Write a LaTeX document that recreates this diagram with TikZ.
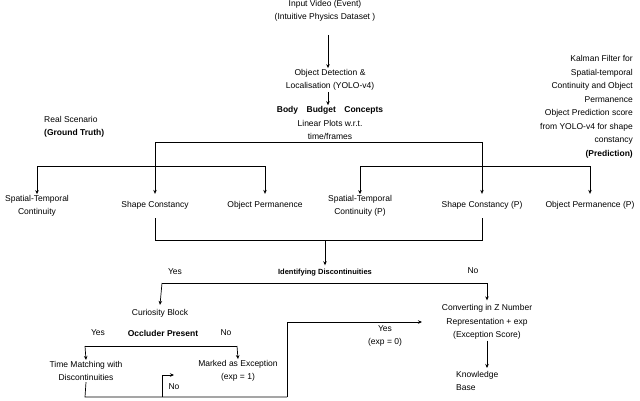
\documentclass[tikz,border=0pt]{standalone}
\usepackage{fontspec}
\setmainfont{Liberation Sans}
\usetikzlibrary{arrows.meta}
\begin{document}
\begin{tikzpicture}[x=1pt,y=-1pt,
    txt/.style={font=\fontsize{8.5}{13.5}\selectfont,align=center,inner sep=1pt},
    arr/.style={-{Stealth[length=4pt,width=3.5pt]},line width=0.7pt},
    ln/.style={line width=0.7pt}]
  \useasboundingbox (0,0) rectangle (640,400);
  % top chain
  \node[txt] (input) at (325,11) {Input Video (Event)\\(Intuitive Physics Dataset )};
  \node[txt] (detect) at (330,80) {Object Detection \&\\Localisation (YOLO-v4)};
  \node[txt] (body) at (330,123) {\textbf{Body\quad Budget\quad Concepts}\\Linear Plots w.r.t.\\time/frames};
  \node[txt,align=left,anchor=west] (real) at (43,127) {Real Scenario\\\textbf{(Ground Truth)}};
  \node[txt,align=right,anchor=east] (kalman) at (634,107) {Kalman Filter for\\Spatial-temporal\\Continuity and Object\\Permanence\\Object Prediction score\\from YOLO-v4 for shape\\constancy\\\textbf{(Prediction)}};
  \draw[arr] ([xshift=3pt,yshift=-12pt]input.south) -- ([xshift=-2pt]detect.north);
  \draw[arr] ([xshift=-2pt]detect.south) -- ([xshift=-2pt]body.north);
  % concepts
  \node[txt] (st) at (37,206) {Spatial-Temporal\\Continuity};
  \node[txt] (sc) at (155,205) {Shape Constancy};
  \node[txt] (op) at (265,205) {Object Permanence};
  \node[txt] (stp) at (360,206) {Spatial-Temporal\\Continuity (P)};
  \node[txt] (scp) at (482,205) {Shape Constancy (P)};
  \node[txt] (opp) at (590,205) {Object Permanence (P)};
  \draw[ln] (155,142) -- (482,142);
  \draw[arr] (155,142) -- ([yshift=6pt]sc.north);
  \draw[arr] (482,142) -- ([yshift=6pt]scp.north);
  \draw[ln] (37,166) -- (265,166);
  \draw[arr] (37,166) -- (st.north);
  \draw[arr] (265,166) -- ([yshift=6pt]op.north);
  \draw[ln] (360,166) -- (590,166);
  \draw[arr] (360,166) -- (stp.north);
  \draw[arr] (590,166) -- ([yshift=6pt]opp.north);
  % discontinuities
  \node[txt] (ident) at (325,273) {\textbf{\fontsize{7.5}{9}\selectfont Identifying Discontinuities}};
  \node[txt] (yes1) at (175,272) {Yes};
  \node[txt] (no1) at (473,271) {No};
  \draw[ln] ([yshift=-8pt]sc.south) -- (155,240) -- (482,240) -- ([yshift=-8pt]scp.south);
  \draw[arr] (325,240) -- ([yshift=3pt]ident.north);
  \draw[ln] (162,283) -- (487,283);
  \node[txt] (cur) at (160,313) {Curiosity Block};
  \node[txt] (conv) at (487,322) {Converting in Z Number\\Representation + exp\\(Exception Score)};
  \draw[arr] (162,283) -- ([yshift=3pt]cur.north);
  \draw[arr] (487,283) -- ([yshift=3pt]conv.north);
  \node[txt,align=left,anchor=west] (kb) at (455,381) {Knowledge\\Base};
  \draw[arr] (conv.south -| 487,0) -- (487,368);
  % occluder
  \node[txt] (occ) at (163,333) {\textbf{Occluder Present}};
  \node[txt] (yes2) at (98,333) {Yes};
  \node[txt] (no2) at (226,333) {No};
  \node[txt] (time) at (86,371) {Time Matching with\\Discontinuities};
  \node[txt] (mark) at (238,371) {Marked as Exception\\(exp = 1)};
  \draw[ln] (85,346) -- (237,346);
  \draw[arr] (85,346) -- (time.north);
  \draw[arr] (237,346) -- (mark.north);
  \node[txt] (no3) at (174,387) {No};
  \node[txt] (yes3) at (385,336) {Yes\\(exp = 0)};
  \coordinate (back) at (174,375);
  \coordinate (fwd) at (422,322);
  \draw[ln] (time.south) -- (85,397) -- (287,397);
  \draw[arr] (162,397) -- (162,375) -- (back);
  \draw[arr] (287,397) -- (287,322) -- (fwd);
\end{tikzpicture}
\end{document}
